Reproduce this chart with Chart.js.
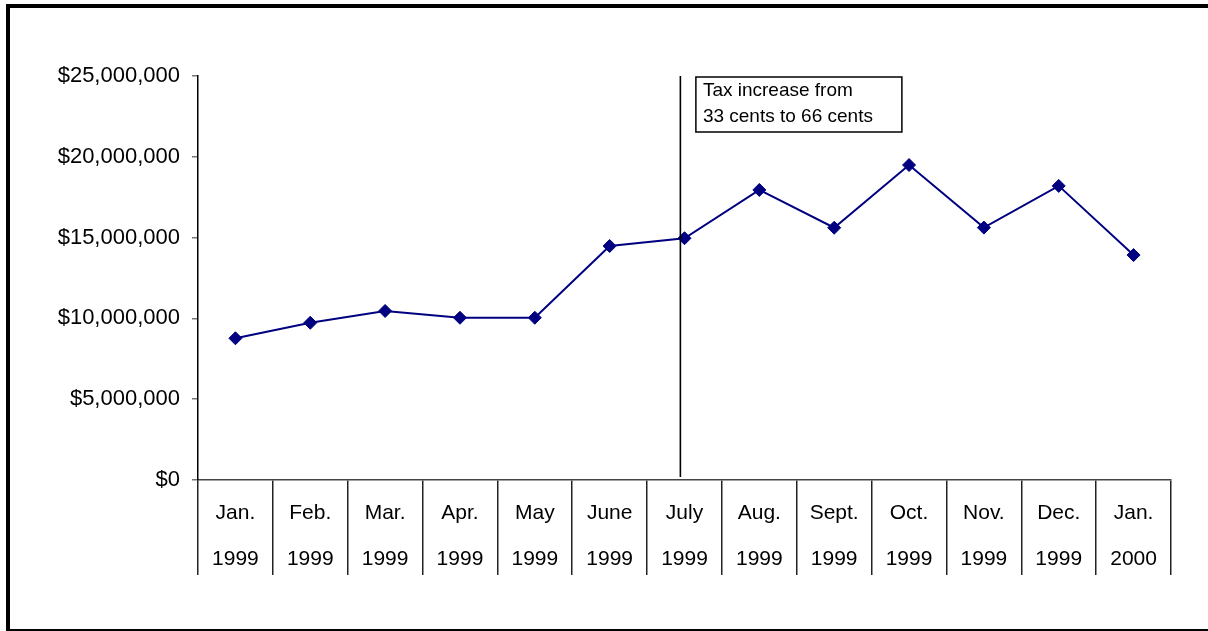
<!DOCTYPE html>
<html>
<head>
<meta charset="utf-8">
<script src="https://cdn.jsdelivr.net/npm/chart.js@4/dist/chart.umd.min.js"></script>
<style>
  html, body { margin: 0; padding: 0; background: #fff; }
  #wrap { position: relative; width: 1208px; height: 631px; }
</style>
</head>
<body>
<div id="wrap"><canvas id="revenueChart" width="1208" height="631"></canvas></div>
<script>
// Monthly receipts, Jan. 1999 - Jan. 2000
const months = ['Jan.', 'Feb.', 'Mar.', 'Apr.', 'May', 'June', 'July', 'Aug.', 'Sept.', 'Oct.', 'Nov.', 'Dec.', 'Jan.'];
const years = ['1999', '1999', '1999', '1999', '1999', '1999', '1999', '1999', '1999', '1999', '1999', '1999', '2000'];
const receipts = [8770000, 9730000, 10460000, 10040000, 10040000, 14480000, 14960000, 17950000, 15610000, 19490000, 15620000, 18200000, 13920000];
const yTicks = [0, 5000000, 10000000, 15000000, 20000000, 25000000];

// marker for the tax change, placed just before the July point
const taxChangeAt = 5.945;
const taxNote = ['Tax increase from', '33 cents to 66 cents'];

const FONT = "'Liberation Sans', Arial, Helvetica, sans-serif";

const fmtDollars = v => '$' + v.toLocaleString('en-US');

const framePlugin = {
    id: 'frame',
    beforeDraw(chart) {
        const ctx = chart.ctx;
        ctx.save();
        ctx.fillStyle = '#fff';
        ctx.fillRect(0, 0, chart.width, chart.height);
        ctx.fillStyle = '#000';
        ctx.fillRect(6, 4, chart.width - 6, 4);   // top edge
        ctx.fillRect(6, 4, 4, chart.height - 4);  // left edge
        ctx.fillRect(6, chart.height - 2, chart.width - 6, 2); // bottom edge
        ctx.restore();
    }
};

const taxNotePlugin = {
    id: 'taxNote',
    afterDatasetsDraw(chart) {
        const { ctx, scales: { x, y } } = chart;
        const lx = x.getPixelForValue(taxChangeAt);
        const top = y.getPixelForValue(yTicks[yTicks.length - 1]);
        const bottom = y.getPixelForValue(0);
        ctx.save();
        ctx.strokeStyle = '#000';
        ctx.lineWidth = 1.6;
        ctx.beginPath();
        ctx.moveTo(lx, top);
        ctx.lineTo(lx, bottom - 3);
        ctx.stroke();

        // label box
        const bx = lx + 15.5, by = top + 1, bw = 206, bh = 55;
        ctx.fillStyle = '#fff';
        ctx.fillRect(bx, by, bw, bh);
        ctx.lineWidth = 1.5;
        ctx.strokeRect(bx, by, bw, bh);
        ctx.fillStyle = '#000';
        ctx.font = '19px ' + FONT;
        ctx.textBaseline = 'middle';
        ctx.textAlign = 'left';
        ctx.fillText(taxNote[0], bx + 7, by + 14);
        ctx.fillText(taxNote[1], bx + 7, by + 40);
        ctx.restore();
    }
};

new Chart(document.getElementById('revenueChart'), {
    type: 'line',
    data: {
        labels: months.map((m, i) => [m, years[i]]),
        datasets: [{
            data: receipts,
            borderColor: '#000080',
            backgroundColor: '#000080',
            borderWidth: 2,
            pointStyle: 'rectRot',
            pointRadius: 6.5,
            pointHoverRadius: 6.5,
            pointBackgroundColor: '#000080',
            pointBorderColor: '#000080',
            pointBorderWidth: 1,
            tension: 0,
            fill: false
        }]
    },
    options: {
        responsive: false,
        animation: false,
        events: [],
        layout: { padding: { left: 0, top: 76, right: 37, bottom: 0 } },
        plugins: {
            legend: { display: false },
            tooltip: { enabled: false }
        },
        scales: {
            x: {
                offset: true,
                afterFit: s => { s.height = 151; },
                border: { display: true, color: '#444', width: 1.5 },
                grid: {
                    offset: true,
                    drawOnChartArea: false,
                    drawTicks: true,
                    tickLength: 95,
                    color: '#222',
                    lineWidth: 1.5
                },
                ticks: {
                    color: '#000',
                    font: { family: FONT, size: 21, lineHeight: 2.2 },
                    padding: -85,
                    maxRotation: 0,
                    autoSkip: false
                }
            },
            y: {
                min: 0,
                max: 25000000,
                afterFit: s => { s.width = 198; },
                afterBuildTicks: s => { s.ticks = yTicks.map(v => ({ value: v })); },
                border: { display: true, color: '#000', width: 1.5 },
                grid: {
                    drawOnChartArea: false,
                    drawTicks: true,
                    tickLength: 6,
                    color: '#777',
                    lineWidth: 1.5
                },
                ticks: {
                    color: '#000',
                    padding: 12,
                    font: { family: FONT, size: 22 },
                    callback: v => fmtDollars(v)
                }
            }
        }
    },
    plugins: [framePlugin, taxNotePlugin]
});
</script>
</body>
</html>
